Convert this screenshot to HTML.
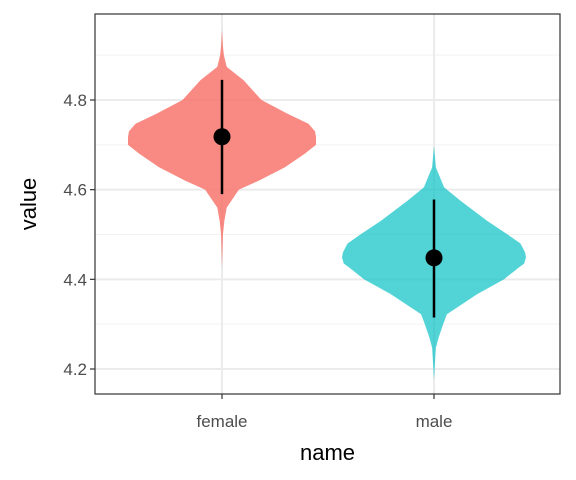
<!DOCTYPE html>
<html><head><meta charset="utf-8"><style>
body{margin:0;background:#fff;}
svg{display:block;font-family:"Liberation Sans",Arial,sans-serif;}
</style></head><body>
<svg id="c" width="576" height="480"></svg>
<script>
const categories=["female","male"];
const yTicks=[4.2,4.4,4.6,4.8];
const yMinor=[4.3,4.5,4.7,4.9];
const femaleVals=[4.956,4.92,4.9,4.874,4.844,4.8,4.769,4.747,4.73,4.717,4.7,4.68,4.65,4.62,4.6,4.56,4.53,4.5,4.426];
const femaleDens=[0,0.01,0.02,0.05,0.23,0.42,0.7,0.92,0.99,1.0,1.0,0.88,0.67,0.39,0.18,0.05,0.025,0.01,0];
const maleVals=[4.698,4.65,4.605,4.575,4.53,4.5,4.48,4.46,4.449,4.435,4.426,4.4,4.367,4.322,4.3,4.27,4.247,4.176];
const maleDens=[0,0.02,0.11,0.29,0.58,0.8,0.94,0.99,1.0,0.98,0.92,0.76,0.47,0.14,0.1,0.05,0.02,0];
const means=[4.718,4.448];
const lows=[4.59,4.315];
const highs=[4.845,4.578];
const colors=["rgba(248,118,109,0.85)","rgba(0,191,196,0.68)"];
const maxHalf=[94,92];

const NS="http://www.w3.org/2000/svg";
const svg=document.getElementById('c');
const L=95,R=560,T=14,B=394;
const y=v=>369-(v-4.2)*(369-100)/0.6;
const x=i=>222+i*212;
function mk(t,a,p){const e=document.createElementNS(NS,t);for(const k in a)e.setAttribute(k,a[k]);(p||svg).appendChild(e);return e;}

mk('rect',{x:L,y:T,width:R-L,height:B-T,fill:'#fff'});
yMinor.forEach(v=>{const l=mk('line',{x1:L,x2:R,y1:y(v),y2:y(v),stroke:'#f2f2f2','stroke-width':1});

});
yTicks.forEach(v=>{const l=mk('line',{x1:L,x2:R,y1:y(v),y2:y(v),stroke:'#ebebeb','stroke-width':2});

});
categories.forEach((c,i)=>{const l=mk('line',{x1:x(i),x2:x(i),y1:T,y2:B,stroke:'#ebebeb','stroke-width':2});

});

const vals=[femaleVals,maleVals],dens=[femaleDens,maleDens];
categories.forEach((c,i)=>{
  let right=vals[i].map((v,j)=>(x(i)+dens[i][j]*maxHalf[i])+','+y(v));
  let left=vals[i].map((v,j)=>(x(i)-dens[i][j]*maxHalf[i])+','+y(v)).reverse();
  const p=mk('polygon',{points:right.concat(left).join(' '),fill:colors[i],'stroke-linejoin':'round'});
  
  
  const e=mk('line',{x1:x(i),x2:x(i),y1:y(lows[i]),y2:y(highs[i]),stroke:'#000','stroke-width':2.5});
  
  
  const m=mk('circle',{cx:x(i),cy:y(means[i]),r:8.5,fill:'#000'});
  
  
  const t=mk('line',{x1:x(i),x2:x(i),y1:B,y2:B+5,stroke:'#333','stroke-width':1.2});
  
  
  const tl=mk('text',{x:x(i),y:427,'text-anchor':'middle','font-size':17,fill:'#4d4d4d'});tl.textContent=c;
  
  
});
yTicks.forEach(v=>{
  const t=mk('line',{x1:L-5,x2:L,y1:y(v),y2:y(v),stroke:'#333','stroke-width':1.2});
  
  
  const tl=mk('text',{x:L-8,y:y(v)+6,'text-anchor':'end','font-size':17,fill:'#4d4d4d'});tl.textContent=v.toFixed(1);
  
  
});
const bd=mk('rect',{x:L,y:T,width:R-L,height:B-T,fill:'none',stroke:'#333','stroke-width':1.2});


const xt=mk('text',{x:(L+R)/2,y:460,'text-anchor':'middle','font-size':22,fill:'#000'});xt.textContent='name';


const yt=mk('text',{x:0,y:0,'text-anchor':'middle','font-size':22,fill:'#000',transform:'translate(36,'+((T+B)/2)+') rotate(-90)'});yt.textContent='value';


</script>
</body></html>
